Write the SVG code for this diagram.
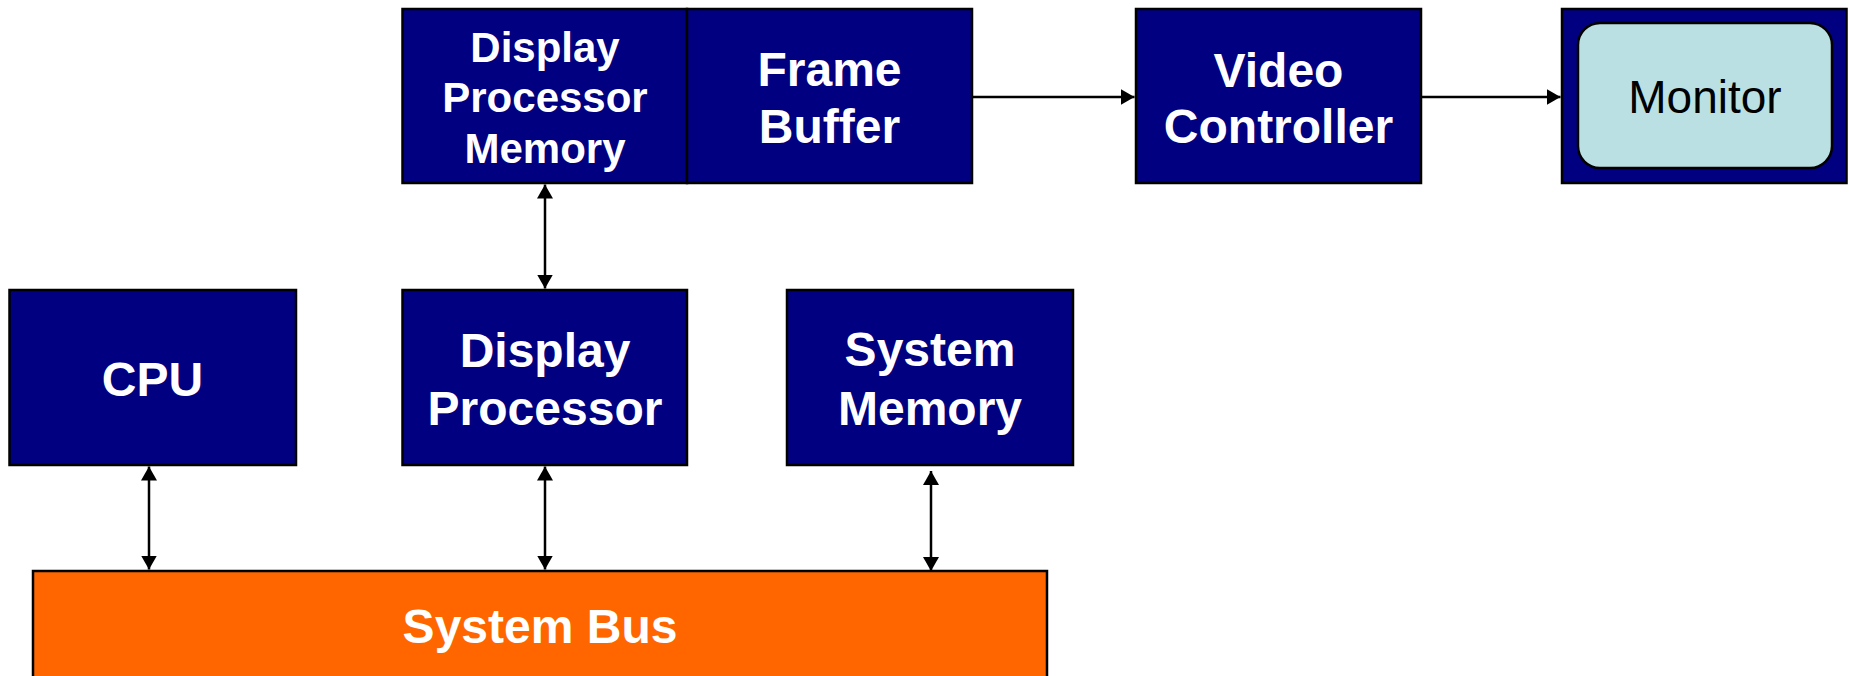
<svg xmlns="http://www.w3.org/2000/svg" width="1849" height="676" viewBox="0 0 1849 676">
  <style>
    .box { fill: #000080; stroke: #000; stroke-width: 2.5; }
    .bus { fill: #FF6600; stroke: #000; stroke-width: 2.5; }
    .screen { fill: #BAE0E4; stroke: #000; stroke-width: 2.5; }
    .lbl { font-family: "Liberation Sans", Arial, sans-serif; font-weight: bold; fill: #fff; text-anchor: middle; }
    .sm { font-size: 42px; }
    .lg { font-size: 48px; }
    .mon { font-family: "Liberation Sans", Arial, sans-serif; font-size: 46px; fill: #000; text-anchor: middle; }
    .wire { stroke: #000; stroke-width: 2.5; fill: none; }
  </style>
  <defs>
    <marker id="head" viewBox="0 0 14 16" refX="14" refY="8" markerWidth="14" markerHeight="16" markerUnits="userSpaceOnUse" orient="auto-start-reverse">
      <path d="M0,0 L14,8 L0,16 z" fill="#000"/>
    </marker>
  </defs>
  <rect width="1849" height="676" fill="#fff"/>

  <g id="system-bus">
    <rect class="bus" x="33" y="571" width="1014" height="130"/>
    <text class="lbl lg" x="540" y="643">System Bus</text>
  </g>

  <g id="display-processor-memory">
    <rect class="box" x="402.5" y="9" width="284.5" height="174"/>
    <text class="lbl sm" x="545" y="62">Display</text>
    <text class="lbl sm" x="545" y="112">Processor</text>
    <text class="lbl sm" x="545" y="163">Memory</text>
  </g>

  <g id="frame-buffer">
    <rect class="box" x="687" y="9" width="285" height="174"/>
    <text class="lbl lg" x="829.5" y="86">Frame</text>
    <text class="lbl lg" x="829.5" y="143">Buffer</text>
  </g>

  <g id="video-controller">
    <rect class="box" x="1136" y="9" width="285" height="174"/>
    <text class="lbl lg" x="1278.5" y="87">Video</text>
    <text class="lbl lg" x="1278.5" y="143">Controller</text>
  </g>

  <g id="monitor">
    <rect class="box" x="1562" y="9" width="284.5" height="174"/>
    <rect class="screen" x="1578" y="23" width="254" height="145" rx="22" ry="22"/>
    <text class="mon" x="1705" y="113">Monitor</text>
  </g>

  <g id="cpu">
    <rect class="box" x="9.5" y="290" width="286.5" height="175"/>
    <text class="lbl lg" x="152.5" y="396">CPU</text>
  </g>

  <g id="display-processor">
    <rect class="box" x="402.5" y="290" width="284.5" height="175"/>
    <text class="lbl lg" x="545" y="367">Display</text>
    <text class="lbl lg" x="545" y="425">Processor</text>
  </g>

  <g id="system-memory">
    <rect class="box" x="787" y="290" width="286" height="175"/>
    <text class="lbl lg" x="930" y="366">System</text>
    <text class="lbl lg" x="930" y="425">Memory</text>
  </g>

  <g id="connectors">
    <path class="wire" d="M545,184.5 V288.5" marker-start="url(#head)" marker-end="url(#head)"/>
    <path class="wire" d="M149,466.5 V569.5" marker-start="url(#head)" marker-end="url(#head)"/>
    <path class="wire" d="M545,466.5 V569.5" marker-start="url(#head)" marker-end="url(#head)"/>
    <path class="wire" d="M931,471 V571" marker-start="url(#head)" marker-end="url(#head)"/>
    <path class="wire" d="M972,97 H1134.5" marker-end="url(#head)"/>
    <path class="wire" d="M1421,97 H1560.5" marker-end="url(#head)"/>
  </g>
</svg>
